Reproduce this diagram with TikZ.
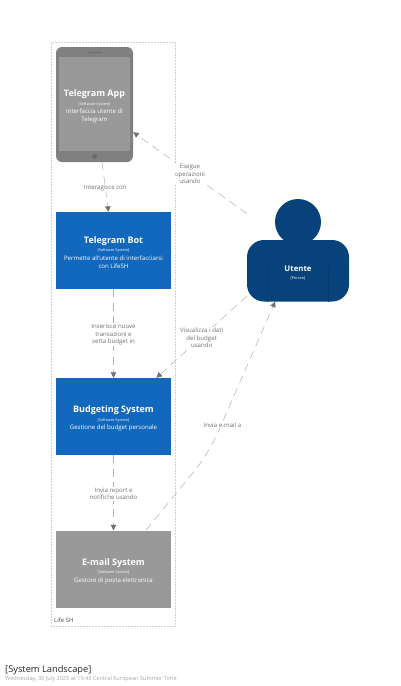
\documentclass[tikz,border=0pt]{standalone}
\usepackage{fontspec}
\setmainfont{Open Sans}
\usetikzlibrary{arrows.meta}

\definecolor{sysBlue}{HTML}{1168BD}
\definecolor{sysGray}{HTML}{999999}
\definecolor{phoneGray}{HTML}{808080}
\definecolor{personBlue}{HTML}{08427B}
\definecolor{relGray}{HTML}{707070}

\newcommand{\sysText}[2]{%
    {\rule{0pt}{11pt}\fontsize{9}{8.3}\selectfont\bfseries #1}\\
    {\fontsize{3.8}{8.3}\selectfont [Software System]}\\
    #2}

\begin{document}
\begin{tikzpicture}[
    x=1pt, y=-1pt,
    % Riquadri dei sistemi
    SysBox/.style={
        minimum width=115pt,
        minimum height=77pt,
        inner sep=0pt,
        text=white,
        align=center,
        font=\fontsize{6.1}{8.3}\selectfont
    },
    % Relazioni tratteggiate
    Rel/.style={
        draw=relGray!55,
        line width=0.5pt,
        dash pattern=on 8pt off 5.5pt,
        -{Triangle[length=5.5pt,width=5.5pt,color=relGray]}
    },
    RelLabel/.style={
        fill=white,
        text=relGray,
        align=center,
        inner sep=1pt,
        yshift=-1pt,
        font=\fontsize{6.1}{7.4}\selectfont
    }
]

    \useasboundingbox (0,0) rectangle (400,686);

    % --- Confine di Life SH ---
    \draw[draw=black!18, line width=0.5pt, densely dotted] (51,42.5) rectangle (175.5,626);
    \node[anchor=west, inner sep=0pt, text=black!70, font=\fontsize{6}{7}\selectfont] (lifeLabel) at (54,620.5) {Life SH};

    % --- Telegram App (tablet) ---
    \fill[phoneGray, rounded corners=6pt] (56,47) rectangle (133,162);
    \fill[sysGray] (59,57) rectangle (130,151);
    \draw[black!58, line width=0.3pt] (87,52.5) -- (102,52.5);
    \fill[black!58] (94.5,156.5) circle (2.5);
    \node[SysBox, minimum width=77pt, minimum height=115pt] (tgApp) at (94.5,104.5)
        {\sysText{Telegram App}{Interfaccia utente di\\Telegram}};

    % --- Sistemi ---
    \node[SysBox, fill=sysBlue] (tgBot) at (113.5,250.5)
        {\sysText{Telegram Bot}{Permette all'utente di interfacciarsi\\con LifeSH}};
    \node[SysBox, fill=sysBlue] (budget) at (113.5,416.5)
        {\sysText{Budgeting System}{Gestione del budget personale}};
    \node[SysBox, fill=sysGray] (email) at (113.5,569)
        {\sysText{E-mail System}{Gestore di posta elettronica}};

    % --- Utente ---
    \node[minimum width=102pt, minimum height=102.5pt, inner sep=0pt] (utente) at (298,250.2) {};
    \fill[personBlue, rounded corners=17pt] (247,240) rectangle (349,301.5);
    \fill[personBlue] (298,222) circle (23);
    \draw[black!12!personBlue, line width=0.4pt] (267.5,267) -- (267.5,301.5);
    \draw[black!12!personBlue, line width=0.4pt] (328.5,267) -- (328.5,301.5);
    \node[inner sep=0pt, text=white, align=center, font=\fontsize{3.8}{7.8}\selectfont] (utenteLabel) at (298,273)
        {{\fontsize{7.8}{7.8}\selectfont\bfseries Utente}\\{[Person]}};

    % --- Relazioni ---
    \draw[Rel] (tgApp) -- node[RelLabel] {Interagisce con} (tgBot);
    \draw[Rel] (utente) -- node[RelLabel] {Esegue\\operazioni\\usando} (tgApp);
    \draw[Rel] (tgBot) -- node[RelLabel] {Inserisce nuove\\transazioni e\\setta budget in} (budget);
    \draw[Rel] (utente) -- node[RelLabel] {Visualizza i dati\\del budget\\usando} (budget);
    \draw[Rel] (budget) -- node[RelLabel] {Invia report e\\notifiche usando} (email);

    % Invia e-mail passa per un punto intermedio
    \coordinate (mailBend) at (209,453);
    \draw[Rel, rounded corners=22pt] (email.50) -- (mailBend) -- (utente.246.5);
    \node[RelLabel] (mailLabel) at (222.5,424) {Invia e-mail a};

    % --- Titolo ---
    \node[anchor=west, inner sep=0pt, text=black!85, font=\fontsize{9.3}{11}\selectfont] (titleLabel) at (5,670) {[System Landscape]};
    \node[anchor=west, inner sep=0pt, text=black!35, font=\fontsize{5.6}{7}\selectfont] (dateLabel) at (5,679)
        {Wednesday, 30 July 2025 at 19:43 Central European Summer Time};

\end{tikzpicture}
\end{document}
